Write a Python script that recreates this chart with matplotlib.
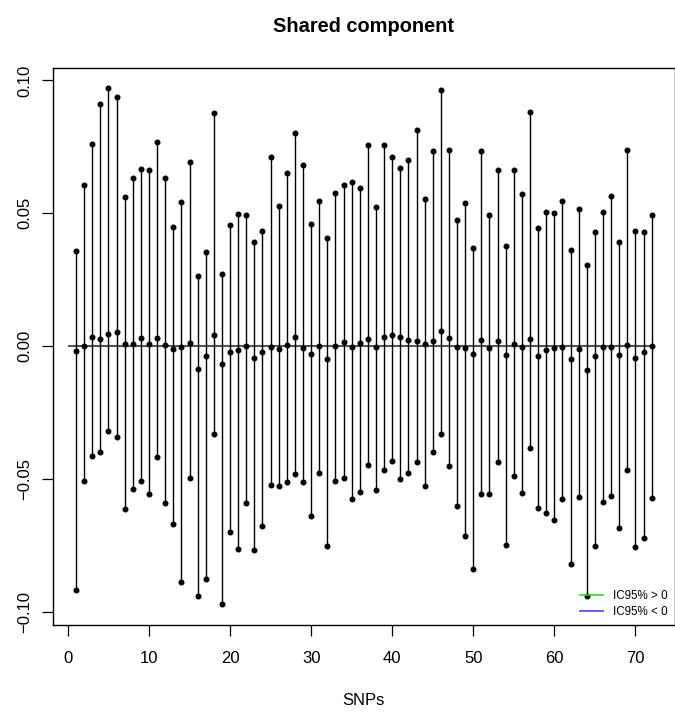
import numpy as np
import matplotlib
matplotlib.use("Agg")
import matplotlib.pyplot as plt
from matplotlib.lines import Line2D

plt.rcParams['font.family'] = ['Liberation Sans', 'DejaVu Sans']

# estimates and 95% interval per SNP
snp_ids = np.arange(1, 73)
ic_upper = [0.0359, 0.0608, 0.0761, 0.0912, 0.0970, 0.0939, 0.0561, 0.0631, 0.0666, 0.0663,
            0.0767, 0.0631, 0.0450, 0.0544, 0.0692, 0.0262, 0.0353, 0.0878, 0.0273, 0.0454,
            0.0497, 0.0494, 0.0391, 0.0434, 0.0713, 0.0529, 0.0650, 0.0802, 0.0682, 0.0458,
            0.0545, 0.0407, 0.0575, 0.0607, 0.0616, 0.0596, 0.0756, 0.0525, 0.0757, 0.0712,
            0.0671, 0.0700, 0.0814, 0.0555, 0.0733, 0.0962, 0.0739, 0.0473, 0.0540, 0.0368,
            0.0733, 0.0494, 0.0663, 0.0375, 0.0663, 0.0572, 0.0882, 0.0446, 0.0504, 0.0500,
            0.0545, 0.0360, 0.0516, 0.0306, 0.0430, 0.0506, 0.0563, 0.0393, 0.0737, 0.0432,
            0.0428, 0.0493]
estimate = [-0.0019, 0.0001, 0.0035, 0.0027, 0.0046, 0.0052, 0.0009, 0.0007, 0.0030, 0.0007,
            0.0031, 0.0005, -0.0011, -0.0003, 0.0013, -0.0087, -0.0039, 0.0043, -0.0067, -0.0024,
            -0.0016, -0.0001, -0.0044, -0.0024, -0.0004, -0.0011, 0.0005, 0.0034, -0.0007, -0.0030,
            -0.0001, -0.0048, -0.0001, 0.0016, -0.0004, 0.0013, 0.0028, -0.0005, 0.0035, 0.0040,
            0.0034, 0.0023, 0.0019, 0.0007, 0.0019, 0.0058, 0.0031, -0.0003, -0.0007, -0.0028,
            0.0023, -0.0008, 0.0019, -0.0034, 0.0009, -0.0004, 0.0027, -0.0036, -0.0015, -0.0008,
            -0.0004, -0.0050, -0.0011, -0.0091, -0.0038, -0.0005, -0.0003, -0.0035, 0.0003, -0.0043,
            -0.0021, -0.0001]
ic_lower = [-0.0919, -0.0508, -0.0415, -0.0399, -0.0318, -0.0342, -0.0612, -0.0538, -0.0508, -0.0556,
            -0.0419, -0.0590, -0.0669, -0.0889, -0.0497, -0.0940, -0.0877, -0.0330, -0.0972, -0.0700,
            -0.0763, -0.0591, -0.0766, -0.0678, -0.0524, -0.0528, -0.0512, -0.0482, -0.0512, -0.0641,
            -0.0477, -0.0752, -0.0508, -0.0496, -0.0577, -0.0549, -0.0447, -0.0541, -0.0466, -0.0431,
            -0.0500, -0.0479, -0.0438, -0.0526, -0.0399, -0.0332, -0.0451, -0.0603, -0.0713, -0.0840,
            -0.0556, -0.0556, -0.0438, -0.0748, -0.0488, -0.0553, -0.0385, -0.0611, -0.0629, -0.0653,
            -0.0577, -0.0822, -0.0569, -0.0940, -0.0751, -0.0585, -0.0564, -0.0685, -0.0466, -0.0757,
            -0.0723, -0.0572]

legend_labels = ["IC95% > 0", "IC95% < 0"]
legend_colors = ["#22DD22", "#4444FF"]

fig = plt.figure(figsize=(6.75, 7.12), dpi=100)
ax = fig.add_axes([0.0785, 0.1222, 0.921, 0.7827])

# R style axis limits (4% padding)
xr = snp_ids.max() - snp_ids.min()
ax.set_xlim(snp_ids.min() - 0.04 * xr, snp_ids.max() + 0.04 * xr)
ymin, ymax = min(ic_lower), max(ic_upper)
yr = ymax - ymin
ax.set_ylim(ymin - 0.04 * yr, ymax + 0.04 * yr)

ax.hlines(0, 0, len(snp_ids), color="#555555", lw=1.5, zorder=1)
ax.vlines(snp_ids, ic_lower, ic_upper, color="black", lw=1, zorder=2)
for vals in (ic_upper, estimate, ic_lower):
    ax.plot(snp_ids, vals, "o", color="black", ms=3.3, zorder=3)

ax.set_xticks(np.arange(0, 71, 10))
ax.set_yticks([-0.10, -0.05, 0.00, 0.05, 0.10])
ax.set_yticklabels(["\u22120.10", "\u22120.05", "0.00", "0.05", "0.10"])
ax.tick_params(axis="both", direction="out", length=8, width=0.9, labelsize=12)
ax.tick_params(axis="x", pad=11)
ax.tick_params(axis="y", pad=7)
for lab in ax.get_yticklabels():
    lab.set_rotation(90)
    lab.set_va("center")
for sp in ax.spines.values():
    sp.set_linewidth(1.0)

ax.set_title("Shared component", fontsize=14.4, fontweight="bold", pad=26)
ax.set_xlabel("SNPs", fontsize=12, labelpad=19)

handles = [Line2D([], [], color=c, lw=1.2) for c in legend_colors]
ax.legend(handles, legend_labels, loc="lower right", frameon=False, fontsize=8.4,
          handlelength=2.0, handletextpad=0.85, labelspacing=0.3,
          borderpad=0.4, borderaxespad=0.2)

fig.savefig("out.png", dpi=100)
